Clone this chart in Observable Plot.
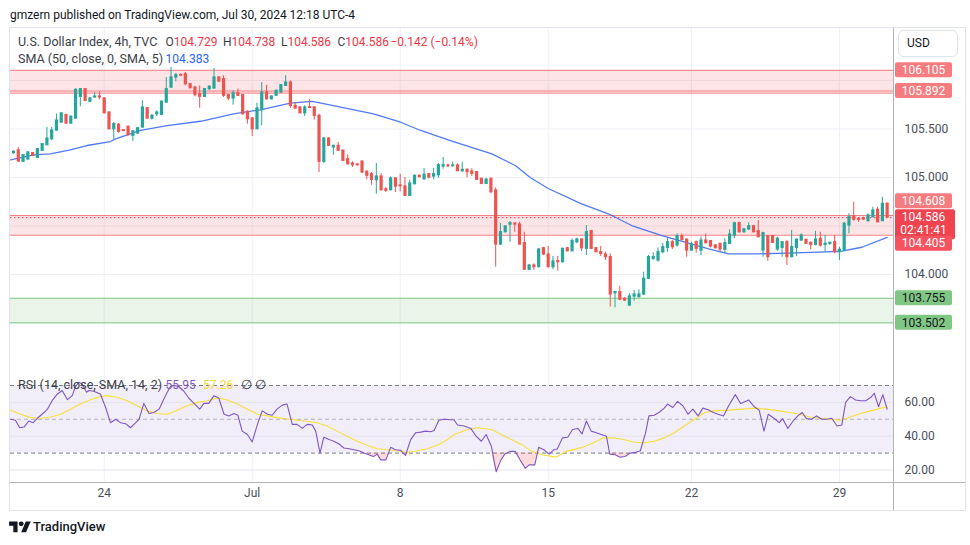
<!DOCTYPE html>
<html><head><meta charset="utf-8">
<script src="https://cdn.jsdelivr.net/npm/d3@7"></script>
<script src="https://cdn.jsdelivr.net/npm/@observablehq/plot@0.6"></script>
<style>
body{margin:0;background:#fff;font-family:Roboto,"Liberation Sans",sans-serif;}
#wrap{position:relative;width:970px;height:545px;overflow:hidden;background:#fff}
.abs{position:absolute;white-space:nowrap;line-height:14px}
.leg{font-size:12.5px;color:#3b3e48}
.leg2{font-size:12px;color:#3b3e48}
.r{color:#f23645}
svg{position:absolute;left:0}
</style></head><body><div id="wrap"></div>
<script>
// ---------- DATA ----------
const ohlc = [
[105.251,105.276,105.240,105.265],[105.279,105.310,105.155,105.165],[105.162,105.240,105.155,105.230],[105.186,105.268,105.180,105.258],
[105.251,105.258,105.218,105.224],[105.203,105.300,105.198,105.292],[105.276,105.350,105.270,105.344],[105.333,105.516,105.330,105.402],
[105.395,105.516,105.382,105.485],[105.485,105.653,105.475,105.588],[105.567,105.670,105.560,105.660],[105.643,105.653,105.547,105.557],
[105.557,105.636,105.550,105.626],[105.608,105.914,105.600,105.904],[105.832,105.918,105.729,105.911],[105.911,105.918,105.785,105.791],
[105.781,105.825,105.773,105.815],[105.825,105.876,105.815,105.835],[105.836,105.884,105.801,105.826],[105.815,105.822,105.655,105.663],
[105.670,105.676,105.490,105.498],[105.498,105.567,105.389,105.550],[105.544,105.557,105.457,105.471],[105.488,105.490,105.478,105.480],
[105.523,105.530,105.430,105.436],[105.430,105.482,105.371,105.475],[105.454,105.515,105.447,105.508],[105.516,105.791,105.508,105.722],
[105.715,105.722,105.600,105.608],[105.608,105.653,105.591,105.636],[105.653,105.688,105.629,105.670],[105.647,105.791,105.636,105.781],
[105.773,106.031,105.766,105.911],[105.928,106.134,105.918,106.031],[106.031,106.072,105.987,106.055],[106.058,106.069,106.041,106.050],
[106.065,106.083,105.945,105.962],[105.962,105.970,105.915,105.921],[105.928,105.938,105.832,105.849],[105.859,105.945,105.715,105.832],
[105.832,105.918,105.825,105.911],[105.911,105.948,105.897,105.935],[105.918,106.124,105.911,106.031],[106.031,106.041,105.980,105.990],
[106.014,106.049,105.825,105.843],[105.849,105.859,105.791,105.815],[105.815,105.894,105.746,105.869],[105.869,105.911,105.835,105.843],
[105.849,105.856,105.643,105.653],[105.677,105.688,105.550,105.601],[105.608,105.619,105.423,105.498],[105.498,105.766,105.495,105.712],
[105.694,105.979,105.533,105.876],[105.876,105.952,105.797,105.807],[105.807,105.840,105.800,105.835],[105.843,105.900,105.838,105.894],
[105.876,105.958,105.870,105.952],[105.945,106.049,105.938,105.979],[105.979,105.997,105.712,105.739],[105.739,105.773,105.701,105.712],
[105.722,105.728,105.656,105.663],[105.663,105.739,105.629,105.722],[105.725,105.801,105.712,105.718],[105.722,105.729,105.591,105.636],
[105.636,105.653,105.052,105.162],[105.162,105.412,105.144,105.402],[105.402,105.410,105.320,105.327],[105.310,105.330,105.230,105.327],
[105.327,105.361,105.268,105.276],[105.276,105.286,105.165,105.172],[105.189,105.234,105.131,105.137],[105.144,105.162,105.103,105.127],
[105.134,105.148,105.113,105.127],[105.165,105.170,105.041,105.052],[105.059,105.069,104.976,105.018],[105.034,105.052,104.921,104.976],
[104.972,105.144,104.828,105.010],[105.010,105.041,104.863,104.869],[104.879,104.897,104.845,104.863],[104.869,105.007,104.863,104.990],
[104.990,105.000,104.845,104.907],[104.918,105.034,104.853,104.910],[104.907,105.000,104.804,104.811],[104.811,104.972,104.804,104.938],
[104.931,105.025,104.925,105.018],[105.018,105.025,104.997,105.003],[104.983,105.093,104.969,105.028],[105.034,105.041,104.983,105.000],
[105.010,105.093,104.976,105.034],[105.024,105.144,104.993,105.127],[105.113,105.206,105.086,105.127],[105.124,105.137,105.103,105.117],
[105.117,105.158,105.106,105.124],[105.124,105.141,105.062,105.065],[105.065,105.158,105.055,105.079],[105.079,105.090,104.997,105.055],
[105.062,105.090,105.010,105.038],[105.055,105.060,104.970,104.976],[104.987,104.993,104.925,104.935],[104.935,104.987,104.928,104.979],
[104.987,104.990,104.832,104.849],[104.866,104.894,104.076,104.309],[104.309,104.529,104.299,104.436],[104.436,104.502,104.430,104.495],
[104.515,104.546,104.333,104.529],[104.527,104.529,104.436,104.515],[104.515,104.539,104.306,104.309],[104.323,104.436,104.042,104.049],
[104.049,104.100,104.042,104.093],[104.093,104.110,104.042,104.076],[104.076,104.265,104.069,104.258],[104.271,104.281,104.196,104.206],
[104.206,104.289,104.069,104.076],[104.076,104.186,104.049,104.134],[104.138,104.186,104.035,104.127],[104.127,104.272,104.120,104.265],
[104.271,104.278,104.233,104.240],[104.240,104.368,104.237,104.344],[104.333,104.375,104.317,104.361],[104.361,104.368,104.237,104.271],
[104.265,104.505,104.196,104.436],[104.447,104.455,104.258,104.265],[104.271,104.278,104.223,104.230],[104.230,104.289,104.186,104.213],
[104.206,104.230,104.145,104.179],[104.179,104.213,103.663,103.794],[103.807,103.825,103.657,103.818],[103.818,103.876,103.732,103.740],
[103.750,103.760,103.722,103.732],[103.681,103.801,103.670,103.773],[103.773,103.835,103.725,103.794],[103.766,103.842,103.760,103.794],
[103.794,104.024,103.784,103.956],[103.956,104.196,103.952,104.179],[104.162,104.224,104.145,104.179],[104.145,104.275,104.127,104.230],
[104.230,104.323,104.214,104.282],[104.275,104.378,104.230,104.333],[104.333,104.350,104.258,104.282],[104.299,104.419,104.282,104.395],
[104.395,104.419,104.344,104.358],[104.358,104.368,104.178,104.247],[104.247,104.333,104.240,104.309],[104.333,104.344,104.220,104.265],
[104.247,104.385,104.196,104.350],[104.350,104.419,104.316,104.323],[104.344,104.350,104.275,104.289],[104.299,104.309,104.265,104.271],
[104.316,104.323,104.230,104.258],[104.255,104.368,104.214,104.323],[104.316,104.461,104.309,104.412],[104.402,104.539,104.368,104.529],
[104.529,104.539,104.426,104.436],[104.436,104.477,104.426,104.464],[104.464,104.533,104.457,104.498],[104.498,104.505,104.430,104.436],
[104.447,104.557,104.378,104.385],[104.247,104.436,104.178,104.426],[104.395,104.402,104.137,104.179],[104.395,104.402,104.320,104.327],
[104.258,104.385,104.240,104.368],[104.275,104.340,104.178,104.333],[104.333,104.350,104.093,104.179],[104.179,104.454,104.169,104.282],
[104.275,104.368,104.186,104.358],[104.350,104.419,104.343,104.402],[104.358,104.361,104.309,104.317],[104.327,104.333,104.255,104.306],
[104.306,104.446,104.296,104.361],[104.368,104.436,104.282,104.299],[104.306,104.402,104.230,104.317],[104.317,104.333,104.299,104.327],
[104.333,104.402,104.213,104.230],[104.230,104.282,104.145,104.255],[104.247,104.539,104.240,104.523],[104.505,104.626,104.420,104.591],
[104.598,104.745,104.550,104.564],[104.574,104.580,104.539,104.564],[104.580,104.591,104.557,104.567],[104.550,104.626,104.543,104.608],
[104.591,104.694,104.585,104.660],[104.667,104.694,104.533,104.539],[104.550,104.797,104.547,104.728],[104.729,104.738,104.586,104.586]
];
const smaPts = [[-0.6,105.182],[4.25,105.234],[7.75,105.244],[11.9,105.286],[15.4,105.330],[20.3,105.371],[21.4,105.399],[26.6,105.485],
[32.2,105.536],[39.2,105.580],[46.1,105.657],[51.7,105.698],[58.0,105.766],[62.6,105.784],[67.0,105.742],[75.4,105.657],[81.1,105.570],
[85.3,105.485],[91.5,105.381],[100.2,105.244],[105.1,105.124],[108.3,104.997],[112.1,104.884],[119.0,104.729],[124.6,104.626],
[129.5,104.505],[135.8,104.402],[141.4,104.323],[145.6,104.265],[149.8,104.213],[156.0,104.213],[162.3,104.220],[168.6,104.230],
[173.5,104.240],[177.7,104.281],[183,104.383]];
const rsiPts = [[-0.6,50],[0.4,49.4],[1.3,45],[2.2,45.4],[3.2,49],[4.1,48],[5.0,50.6],[6.4,54],[7.1,56],[8.1,61],[9.2,65],[10.2,67],
[11.3,61.6],[12.3,64],[13.0,69.4],[13.7,72],[14.4,70.6],[15.3,66],[15.8,67],[16.8,66.6],[18.2,65],[19.3,57],[20.3,48],[21.4,50],
[22.4,48],[23.5,47.4],[24.5,45],[25.6,48],[26.3,50],[27.3,59.4],[28.4,53.4],[29.4,54],[30.5,56],[31.5,62],[32.2,66],[32.9,69.4],
[33.6,70],[34.6,69.4],[35.7,66.6],[36.7,62.6],[37.8,59.4],[39.0,56],[39.9,59.4],[40.9,59.4],[42.0,64],[43.0,62.6],[44.1,53],
[45.1,52],[46.2,53.4],[47.0,52.4],[47.9,43],[49.0,41],[50.0,36.6],[51.1,47],[52.1,55],[53.2,53],[54.2,52.4],[55.2,56],[56.3,58.4],
[57.3,59],[58.4,47],[59.4,47],[60.5,44.6],[61.5,47],[62.6,46.6],[63.3,43],[64.2,30],[65.0,39.4],[66.1,38],[67.1,37],[68.2,35.4],
[69.2,33],[70.3,32.6],[71.3,32],[72.4,31.4],[73.4,30],[74.4,29],[75.4,28],[76.2,29.4],[76.9,26],[78.0,26],[79.0,33.4],[80.0,32],
[81.1,31.6],[82.1,28.6],[83.2,38],[84.2,42],[85.3,42.4],[86.3,43],[87.4,42.6],[88.1,43.4],[89.1,49.4],[90.2,50],[92.3,49.6],
[93.0,46.6],[94.4,46],[95.8,44.6],[96.9,40],[98.0,37],[99.0,41],[100.1,34],[101.1,19],[102.1,26],[102.9,29.4],[104.0,31],[105.1,31],
[106.1,26],[107.2,21],[108.0,23],[109.2,23],[110.0,33.4],[111.1,32],[112.2,29.4],[113.2,32],[113.9,32.4],[115.0,39],[116.1,39.4],
[117.1,44],[118.2,44.6],[119.1,41.4],[120.0,49],[121.0,43],[122.1,42],[123.1,41],[124.2,40],[124.9,29.4],[126.0,29],[127.1,27.6],
[128.1,28],[129.2,30],[130.3,30.4],[131.3,31.4],[132.4,42],[133.1,52],[134.2,52.4],[135.2,54],[136.3,56.6],[137.0,59],[138.1,57],
[139.1,60.6],[140.2,58],[141.3,53],[142.3,56],[143.4,52],[144.4,56.6],[145.5,55.6],[146.6,54],[147.6,53],[148.7,52],[149.8,58],
[151.2,64.6],[152.3,59.4],[154.0,61.4],[155.1,57.6],[156.2,55.4],[157.2,43],[158.1,53],[159.3,50.6],[160.4,48],[161.1,50.4],
[162.2,44.6],[163.3,49],[164.3,52],[165.2,54],[166.1,50.4],[167.2,50],[168.2,52],[169.3,50],[170.4,50],[171.4,50.6],[172.5,46],
[173.5,46.6],[174.3,60],[175.3,63.4],[176.4,61.4],[177.4,61],[178.5,61],[179.6,63],[180.3,65.4],[181.2,57.4],[182.1,64.6],[183.0,55.95]];
const rsiMaPts = [[-0.6,55.4],[1.5,53],[3.6,51],[5.7,50.6],[7.8,51.4],[9.9,53],[11.9,56],[14.0,59],[16.1,61.6],[18.2,63.4],[19.6,64],
[21.7,63],[23.8,61],[25.9,58],[28.0,55],[30.1,53.4],[32.2,53],[34.3,55.4],[36.4,58],[38.5,60],[40.6,61],[42.7,62.6],[44.8,61.4],
[46.9,59],[49.0,56],[51.1,53],[53.2,52],[55.2,51],[58.0,50],[60.8,49],[63.6,48],[65.7,46],[67.8,43],[69.9,40],[72.0,37],[74.1,34.6],
[76.2,32.6],[78.3,32],[80.4,31.4],[82.5,30.4],[84.6,31.4],[86.7,32.6],[88.8,34.6],[90.9,38],[92.3,41],[95.1,44],[97.2,45],[100.1,44],
[102.2,41],[104.3,38],[106.5,35],[108.6,31],[110.7,29],[113.6,27.6],[115.7,31],[119.2,33.4],[121.4,36],[123.5,39],[125.6,39],
[127.8,38],[129.9,36.6],[132.0,36],[134.2,37],[136.3,39],[138.4,42],[140.5,46],[142.7,50],[144.8,54],[146.9,55],[149.8,55.4],
[152.6,56],[155.4,56.6],[157.6,56],[160.4,55],[162.5,54],[164.7,53],[166.8,51.4],[168.9,50.6],[171.1,50],[173.2,49.4],[175.3,51.4],
[177.4,53.4],[179.6,55],[181.7,56.6],[183.0,57.26]];

const dateTicks  = [19, 50, 81, 112, 142, 173];
const dateLabels = ["24", "Jul", "8", "15", "22", "29"];
const priceGrid  = [103.5, 104.0, 104.5, 105.0, 105.5, 106.0];
const priceTicks = [104.0, 105.0, 105.5];
const rsiTicks   = [20, 40, 60];
const rsiBands   = [30, 50, 70];

const zoneLows   = [105.870, 104.405, 103.502];
const zoneHighs  = [106.105, 104.608, 103.755];
const zoneKinds  = ["res", "res", "sup"];
const zoneLines  = [106.105, 105.892, 105.870, 104.608, 104.405, 103.755, 103.502];
const lastPrice  = 104.586;

const labelValues = [106.105, 105.892, 104.608, 104.586, 104.405, 103.755, 103.502];
const labelKinds  = ["zone", "zone", "zone", "last", "alert", "sup", "sup"];
const countdown   = "02:41:41";

const legendTitle = "U.S. Dollar Index, 4h, TVC";
const legendOHLC  = [["O","104.729"],["H","104.738"],["L","104.586"],["C","104.586"]];
const legendChange = "\u22120.142 (\u22120.14%)";
const smaTitle = "SMA (50, close, 0, SMA, 5)";
const smaValue = "104.383";
const rsiTitle = "RSI (14, close, SMA, 14, 2)";
const rsiValues = ["55.95", "57.26"];
const header = "gmzern published on TradingView.com, Jul 30, 2024 12:18 UTC-4";

// ---------- STYLE ----------
const UP = "#26a69a", DN = "#ef5350";
const GRID = "#eef0f5";
const X_DOMAIN = [-0.628, 184.33];
const labelShift = {"104.608": -14.2, "104.405": 8.5};
const labelFill = {zone:"#f77c80", last:"#f0434f", alert:"#f7525f", sup:"#81c784"};
const labelText = {zone:"#fff", last:"#fff", alert:"#fff", sup:"#131722"};

const wrap = document.getElementById("wrap");
const bars = ohlc.map(([o,h,l,c], i) => ({i, o, h, l, c, up: c >= o}));
const sma = smaPts.map(([i,v]) => ({i, v}));
const rsi = rsiPts.map(([i,v]) => ({i, v}));
const rsiMa = rsiMaPts.map(([i,v]) => ({i, v}));
const zones = zoneLows.map((lo, k) => ({lo, hi: zoneHighs[k], kind: zoneKinds[k]}));
const lineKind = v => v > 103.9 ? "res" : "sup";
const common = {fontFamily: "Roboto, sans-serif", fontSize: "12px", color: "#4a4e5a", background: "transparent", overflow: "visible"};

// ---------- PRICE PANE ----------
const price = Plot.plot({
  width: 970, height: 344, marginLeft: 10, marginRight: 77, marginTop: 0, marginBottom: 0,
  style: common,
  x: {domain: X_DOMAIN, axis: null},
  y: {domain: [102.9897, 106.5364], axis: null},
  marks: [
    Plot.gridX({ticks: dateTicks, stroke: GRID, strokeOpacity: 1}),
    Plot.gridY({ticks: priceGrid, stroke: GRID, strokeOpacity: 1}),
    Plot.rect(zones, {x1: () => X_DOMAIN[0], x2: () => X_DOMAIN[1], y1: "lo", y2: "hi",
      fill: d => d.kind === "res" ? "#f23645" : "#4caf50", fillOpacity: 0.13}),
    Plot.ruleY(zoneLines, {stroke: d => lineKind(d) === "res" ? "#f77c80" : "#81c784", strokeWidth: 1}),
    Plot.ruleY([lastPrice], {stroke: "#f23645", strokeDasharray: "1.5,2.5", strokeWidth: 1}),
    Plot.line(sma, {x: "i", y: "v", stroke: "#3d6af5", strokeWidth: 1.3, strokeOpacity: 0.9}),
    Plot.ruleX(bars, {x: "i", y1: "l", y2: "h", stroke: d => d.up ? UP : DN, strokeWidth: 1}),
    Plot.ruleX(bars, {x: "i", y1: d => Math.max(d.o, d.c), y2: d => Math.min(d.o, d.c),
      stroke: d => d.up ? UP : DN, strokeWidth: 3.2, insetTop: -0.6, insetBottom: -0.6}),
    Plot.axisY({ticks: priceTicks, anchor: "right", tickSize: 0, tickPadding: 11, label: null,
      tickFormat: d3.format(".3f"), fill: "#4a4e5a"})
  ]
});
price.style.top = "28px";
wrap.appendChild(price);

// right-side price labels drawn with the plot's own y scale
const yS = price.scale("y");
const lg = d3.select(price).append("g").attr("font-family", "Roboto, sans-serif").attr("font-size", 12);
labelValues.forEach((v, k) => {
  const kind = labelKinds[k];
  const y = yS.apply(v) + (labelShift[v.toFixed(3)] || 0);
  if (kind === "last") {
    lg.append("rect").attr("x", 895).attr("y", y - 8).attr("width", 60).attr("height", 30).attr("rx", 2).attr("fill", labelFill[kind]);
    lg.append("text").attr("x", 923.5).attr("y", y).attr("dy", "0.35em").attr("text-anchor", "middle").attr("fill", "#fff").text(v.toFixed(3));
    lg.append("text").attr("x", 923.5).attr("y", y + 12.5).attr("dy", "0.35em").attr("text-anchor", "middle").attr("fill", "#fff").text(countdown);
  } else {
    lg.append("rect").attr("x", 895).attr("y", y - 7.5).attr("width", 57).attr("height", 15).attr("rx", 2).attr("fill", labelFill[kind]);
    lg.append("text").attr("x", 923.5).attr("y", y).attr("dy", "0.35em").attr("text-anchor", "middle").attr("fill", labelText[kind]).text(v.toFixed(3));
  }
});

// ---------- RSI PANE ----------
const tickLabel = new Map(dateTicks.map((t, k) => [t, dateLabels[k]]));
const rsiPlot = Plot.plot({
  width: 970, height: 138, marginLeft: 10, marginRight: 77, marginTop: 0, marginBottom: 28,
  style: common,
  x: {domain: X_DOMAIN, axis: null},
  y: {domain: [12.6, 77.69], axis: null},
  marks: [
    Plot.rect([{lo: rsiBands[0], hi: rsiBands[2]}], {x1: () => X_DOMAIN[0], x2: () => X_DOMAIN[1], y1: "lo", y2: "hi", fill: "#7e57c2", fillOpacity: 0.1}),
    Plot.gridX({ticks: dateTicks, stroke: GRID, strokeOpacity: 1}),
    Plot.gridY({ticks: rsiTicks, stroke: "#e4e3ef", strokeOpacity: 1}),
    Plot.ruleY([rsiBands[0], rsiBands[2]], {stroke: "#787b86", strokeDasharray: "4,3", strokeWidth: 1}),
    Plot.ruleY([rsiBands[1]], {stroke: "#787b86", strokeOpacity: 0.5, strokeDasharray: "4,3", strokeWidth: 1}),
    Plot.areaY(rsi, {x: "i", y1: () => rsiBands[0], y2: d => Math.min(d.v, rsiBands[0]), fill: "#f23645", fillOpacity: 0.18}),
    Plot.line(rsiMa, {x: "i", y: "v", stroke: "#f7df3a", strokeWidth: 1.1}),
    Plot.line(rsi, {x: "i", y: "v", stroke: "#7e57c2", strokeWidth: 1.1}),
    Plot.axisY({ticks: rsiTicks, anchor: "right", tickSize: 0, tickPadding: 11, label: null, tickFormat: d3.format(".2f"), fill: "#4a4e5a"}),
    Plot.axisX({ticks: dateTicks, anchor: "bottom", tickSize: 0, tickPadding: 6, label: null, tickFormat: d => tickLabel.get(d), fill: "#4a4e5a"})
  ]
});
rsiPlot.style.top = "372px";
wrap.appendChild(rsiPlot);

// ---------- CHROME & TEXT ----------
function div(html, css, cls) {
  const d = document.createElement("div");
  d.className = "abs " + (cls || "");
  d.style.cssText = css; d.innerHTML = html; wrap.appendChild(d); return d;
}
div("", "left:9px;top:27px;width:955px;height:482px;border:1px solid #e0e3eb;");
div("", "left:893px;top:28px;width:1px;height:482px;background:#b2b5be;");
div("", "left:10px;top:482px;width:955px;height:1px;background:#b2b5be;");
div(header, "left:10px;top:8px;font-size:12px;color:#131722;");
div(legendTitle, "left:18px;top:35px;", "leg");
const ohlcX = [165.5, 223, 281, 337.5];
legendOHLC.forEach(([k, v], j) => div(k + '<span class="r">' + v + '</span>', "left:" + ohlcX[j] + "px;top:35px;", "leg2"));
div('<span class="r">' + legendChange + '</span>', "left:390.5px;top:35px;", "leg2");
div(smaTitle, "left:18px;top:52px;", "leg");
div('<span style="color:#2962ff">' + smaValue + '</span>', "left:165.5px;top:52px;", "leg2");
div(rsiTitle, "left:18px;top:378px;", "leg");
div('<span style="color:#7e57c2">' + rsiValues[0] + '</span>', "left:165.5px;top:378px;", "leg2");
div('<span style="color:#f5d92e">' + rsiValues[1] + '</span>', "left:203px;top:378px;", "leg2");
div('\u2205', "left:240.5px;top:378px;", "leg");
div('\u2205', "left:255px;top:378px;", "leg");
div("USD", "left:898px;top:30px;width:50px;height:25px;line-height:25px;padding-left:8px;border:1px solid #e0e3eb;border-radius:6px;font-size:12px;color:#131722;background:#fff;");
div('<svg width="22" height="17" viewBox="0 0 36 28" style="position:static;display:block"><path d="M14 22H7V11H0V4h14v18z" fill="#131722"/><circle cx="20" cy="8" r="4" fill="#131722"/><path d="M28 22h-8l7.5-18h8L28 22z" fill="#131722"/></svg>',
  "left:9px;top:519px;");
div("TradingView", "left:33px;top:520px;font-size:13px;font-weight:500;color:#131722;");
</script></body></html>
